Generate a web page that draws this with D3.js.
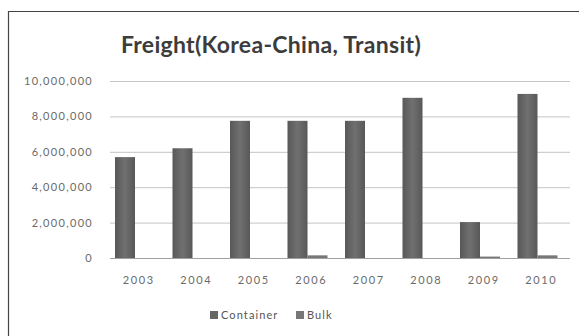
<html>
<head>
<script src="https://d3js.org/d3.v7.min.js"></script>
<style>
body { margin: 0; background: #fff; overflow: hidden; }
svg { display: block; }
text { font-family: Lato, "Open Sans", sans-serif; }
</style>
</head>
<body>
<script>
var years = ["2003", "2004", "2005", "2006", "2007", "2008", "2009", "2010"];
var container = [5700000, 6200000, 7750000, 7750000, 7750000, 9050000, 2030000, 9270000];
var bulk = [0, 0, 0, 150000, 0, 0, 80000, 150000];
var seriesNames = ["Container", "Bulk"];
var yTicks = [0, 2000000, 4000000, 6000000, 8000000, 10000000];

var W = 579, H = 336;
var svg = d3.select("body").append("svg")
    .attr("width", W)
    .attr("height", H);

var grad = svg.append("defs").append("linearGradient")
    .attr("id", "barGrad")
    .attr("x1", "0%").attr("x2", "100%").attr("y1", "0%").attr("y2", "0%");
grad.append("stop").attr("offset", "0%").attr("stop-color", "#585858");
grad.append("stop").attr("offset", "50%").attr("stop-color", "#707070");
grad.append("stop").attr("offset", "100%").attr("stop-color", "#585858");

svg.append("rect").attr("width", W).attr("height", H).attr("fill", "#fff");

// chart frame: only left and top edges are inside the picture
svg.append("path")
    .attr("d", "M8.5," + H + "V11.5H" + W)
    .attr("fill", "none")
    .attr("stroke", "#444")
    .attr("stroke-width", 1.2);

var plot = {left: 110, right: 570, top: 81, bottom: 258};

var x = d3.scaleBand()
    .domain(years)
    .range([plot.left, plot.right]);
var x1 = d3.scaleBand()
    .domain(seriesNames)
    .range([5, 45]);
var y = d3.scaleLinear()
    .domain([0, 10000000])
    .range([plot.bottom, plot.top]);

// title
svg.append("text")
    .attr("x", 271).attr("y", 53)
    .attr("text-anchor", "middle")
    .attr("font-size", 23)
    .attr("font-weight", "bold")
    .attr("letter-spacing", 0.3)
    .attr("fill", "#3c3c3c")
    .text("Freight(Korea-China, Transit)");

// gridlines
svg.append("g").selectAll("line")
    .data(yTicks)
    .enter().append("line")
    .attr("x1", plot.left).attr("x2", plot.right)
    .attr("y1", d => y(d) + 0.5).attr("y2", d => y(d) + 0.5)
    .attr("stroke", d => d === 0 ? "#a0a0a0" : "#c4c4c4")
    .attr("stroke-width", 1);

// y labels
var fmt = d3.format(",");
svg.append("g").selectAll("text")
    .data(yTicks)
    .enter().append("text")
    .attr("x", 93)
    .attr("y", d => y(d) + 4)
    .attr("text-anchor", "end")
    .attr("font-size", 11)
    .attr("letter-spacing", 1.3)
    .attr("fill", "#6a6a6a")
    .text(d => fmt(d));

// x labels
svg.append("g").selectAll("text")
    .data(years)
    .enter().append("text")
    .attr("x", d => x(d) + x.bandwidth() / 2)
    .attr("y", 284)
    .attr("text-anchor", "middle")
    .attr("font-size", 11)
    .attr("letter-spacing", 1.6)
    .attr("fill", "#6a6a6a")
    .text(d => d);

// bars
var colors = {Container: "#666666", Bulk: "#777777"};
var rows = years.map((yr, i) => ({year: yr, Container: container[i], Bulk: bulk[i]}));
var groups = svg.append("g").selectAll("g")
    .data(rows)
    .enter().append("g")
    .attr("transform", d => "translate(" + x(d.year) + ",0)");
groups.selectAll("rect")
    .data(d => seriesNames.map(s => ({key: s, value: d[s]})))
    .enter().append("rect")
    .attr("x", d => x1(d.key))
    .attr("width", x1.bandwidth())
    .attr("y", d => y(d.value))
    .attr("height", d => plot.bottom - y(d.value))
    .attr("fill", d => d.key === "Container" ? "url(#barGrad)" : colors.Bulk);

// legend
var legend = svg.append("g").attr("transform", "translate(210,319)");
var items = [{name: "Container", x: 0}, {name: "Bulk", x: 86}];
legend.selectAll("rect")
    .data(items)
    .enter().append("rect")
    .attr("x", d => d.x).attr("y", -8)
    .attr("width", 8).attr("height", 8)
    .attr("fill", d => colors[d.name]);
legend.selectAll("text")
    .data(items)
    .enter().append("text")
    .attr("x", d => d.x + 11).attr("y", 0)
    .attr("font-size", 11)
    .attr("letter-spacing", 1.1)
    .attr("fill", "#555")
    .text(d => d.name);
</script>
</body>
</html>
